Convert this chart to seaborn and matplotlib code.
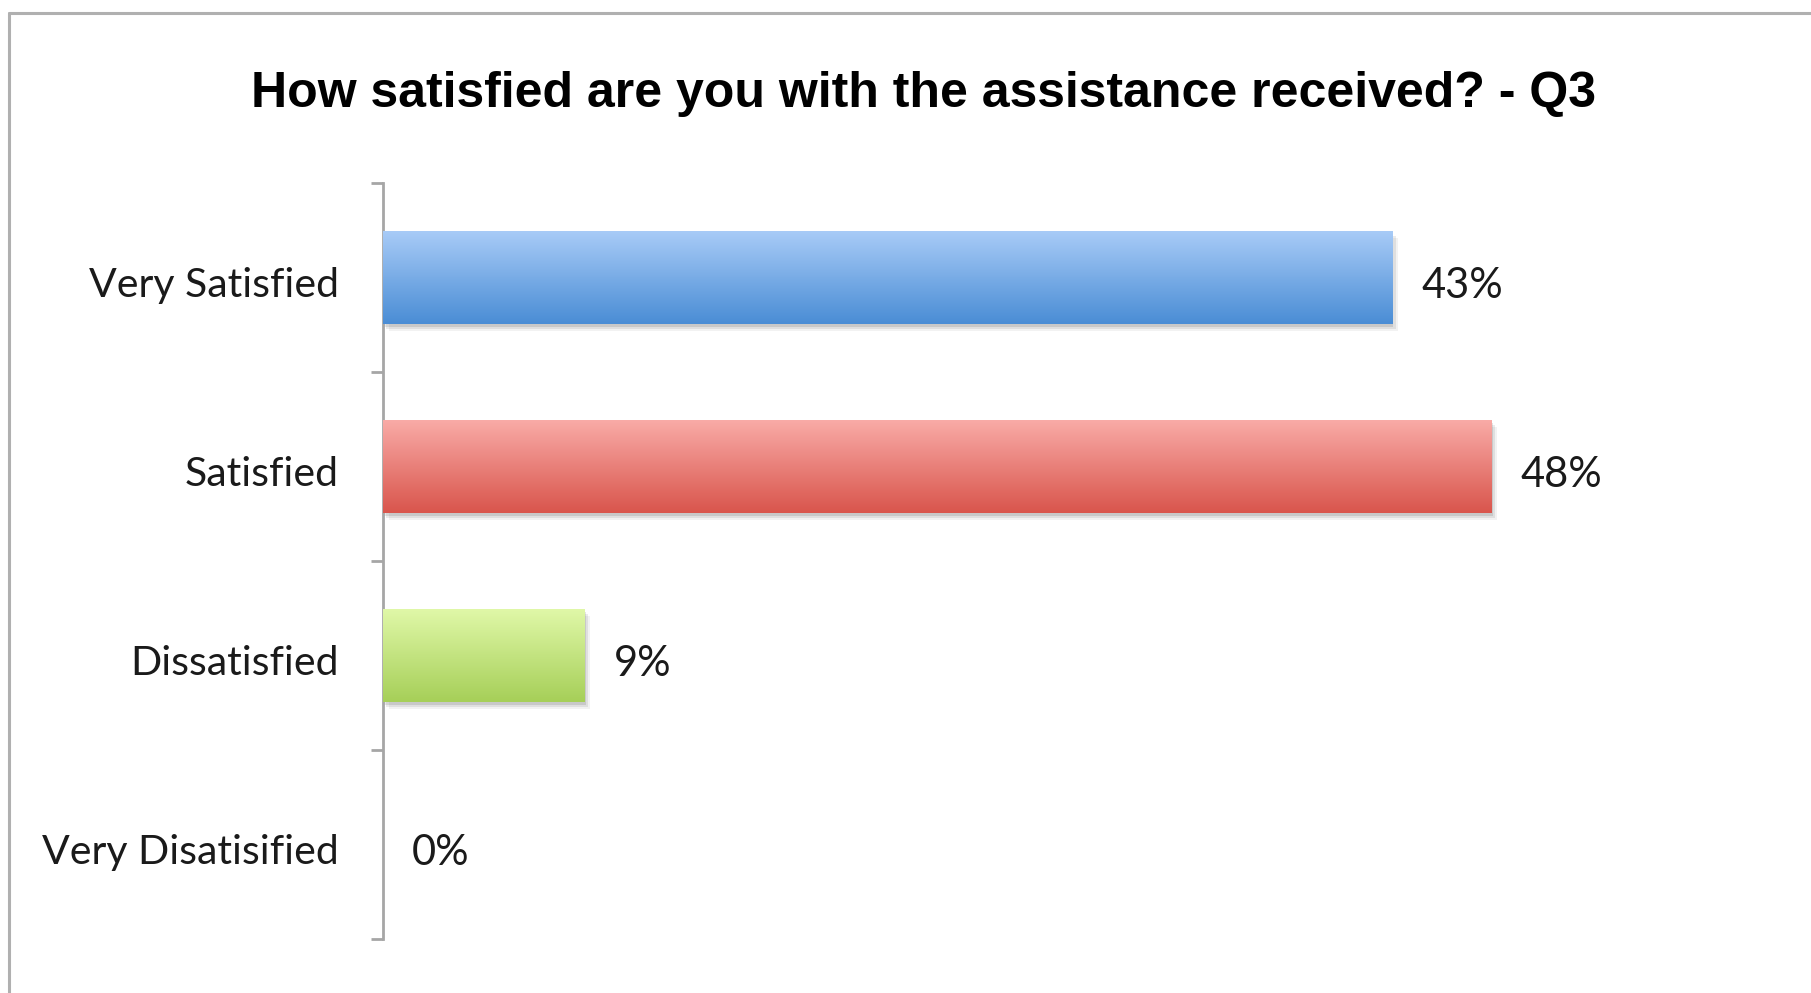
import numpy as np
import pandas as pd
import matplotlib
matplotlib.use("Agg")
import matplotlib.pyplot as plt
import matplotlib.patheffects as pe
import matplotlib.transforms as mtransforms
from matplotlib.colors import LinearSegmentedColormap
from matplotlib.lines import Line2D
import seaborn as sns

categories = ["Very Satisfied", "Satisfied", "Dissatisfied", "Very Disatisified"]
values = [43.5, 47.8, 8.7, 0]
value_labels = ["43%", "48%", "9%", "0%"]
title = "How satisfied are you with the assistance received? - Q3"
top_colors = ["#a8cbf7", "#f9aba7", "#e0f8a8"]
bottom_colors = ["#4a8dd5", "#d9554c", "#a6cf58"]
mid_colors = ["#75a9e6", "#ea7c75", "#c2e47f"]

sns.set_theme(style="white")
plt.rcParams["font.family"] = ["Lato", "DejaVu Sans"]

df = pd.DataFrame({"category": categories, "value": values})

fig = plt.figure(figsize=(18.11, 9.93), dpi=100)
ax = fig.add_axes([0.2115, 0.0544, 0.7685, 0.7613])

palette = mid_colors + ["#ffffff"]
sns.barplot(data=df, y="category", x="value", hue="category", palette=palette,
            orient="h", width=0.49, legend=False, ax=ax, zorder=2)

ax.set_xlim(0, 60)
ax.set_ylim(3.5, -0.5)

bars = list(ax.patches)
for i, bar in enumerate(bars):
    if i >= 3 or bar.get_width() <= 0:
        continue
    bar.set_path_effects([
        pe.SimplePatchShadow(offset=(1, -2), shadow_rgbFace="#000000", alpha=0.10),
        pe.SimplePatchShadow(offset=(2.5, -3.5), shadow_rgbFace="#000000", alpha=0.08),
        pe.SimplePatchShadow(offset=(4, -5), shadow_rgbFace="#000000", alpha=0.05),
        pe.Normal()])
    bar.set_edgecolor("none")
    x0, y0 = bar.get_x(), bar.get_y()
    w, h = bar.get_width(), bar.get_height()
    cmap = LinearSegmentedColormap.from_list("g%d" % i, [top_colors[i], bottom_colors[i]])
    grad = np.linspace(0, 1, 256).reshape(-1, 1)
    im = ax.imshow(grad, cmap=cmap, aspect="auto", extent=[x0, x0 + w, y0 + h, y0],
                   origin="upper", zorder=3)
    im.set_clip_path(bar)
ax.set_xlim(0, 60)
ax.set_ylim(3.5, -0.5)

for i, bar in enumerate(bars):
    ax.annotate(value_labels[i], xy=(bar.get_width(), bar.get_y() + bar.get_height() / 2),
                xytext=(21, -6), textcoords="offset points", ha="left", va="center",
                fontsize=30, color="#1a1a1a", zorder=5)

for s in ["top", "right", "bottom"]:
    ax.spines[s].set_visible(False)
ax.spines["left"].set_color("#a6a6a6")
ax.spines["left"].set_linewidth(2.0)
ax.set_xticks([])
ax.set_xlabel("")
ax.set_ylabel("")
ax.set_yticks(range(len(categories)))
ax.set_yticklabels(categories, fontsize=29.5, color="#1a1a1a")
ax.set_yticks([-0.5, 0.5, 1.5, 2.5, 3.5], minor=True)
ax.tick_params(axis="y", which="major", length=0, pad=32)
ax.tick_params(axis="y", which="minor", length=9, width=2.0, color="#a6a6a6", left=True)
shift = mtransforms.ScaledTranslation(0, -4.5 / 100, fig.dpi_scale_trans)
for tick in ax.yaxis.get_major_ticks():
    tick.label1.set_transform(tick.label1.get_transform() + shift)

fig.text(0.51, 1 - 94 / 993, title, ha="center", va="center", fontsize=36,
         fontweight="bold", family=["Liberation Sans", "DejaVu Sans"], color="#000000")

fig.add_artist(Line2D([9 / 1811, 1], [1 - 13 / 993, 1 - 13 / 993], transform=fig.transFigure,
                      color="#b0b0b0", linewidth=2.2))
fig.add_artist(Line2D([9 / 1811, 9 / 1811], [0, 1 - 13 / 993], transform=fig.transFigure,
                      color="#b0b0b0", linewidth=2.2))

fig.savefig("out.png", dpi=100)
